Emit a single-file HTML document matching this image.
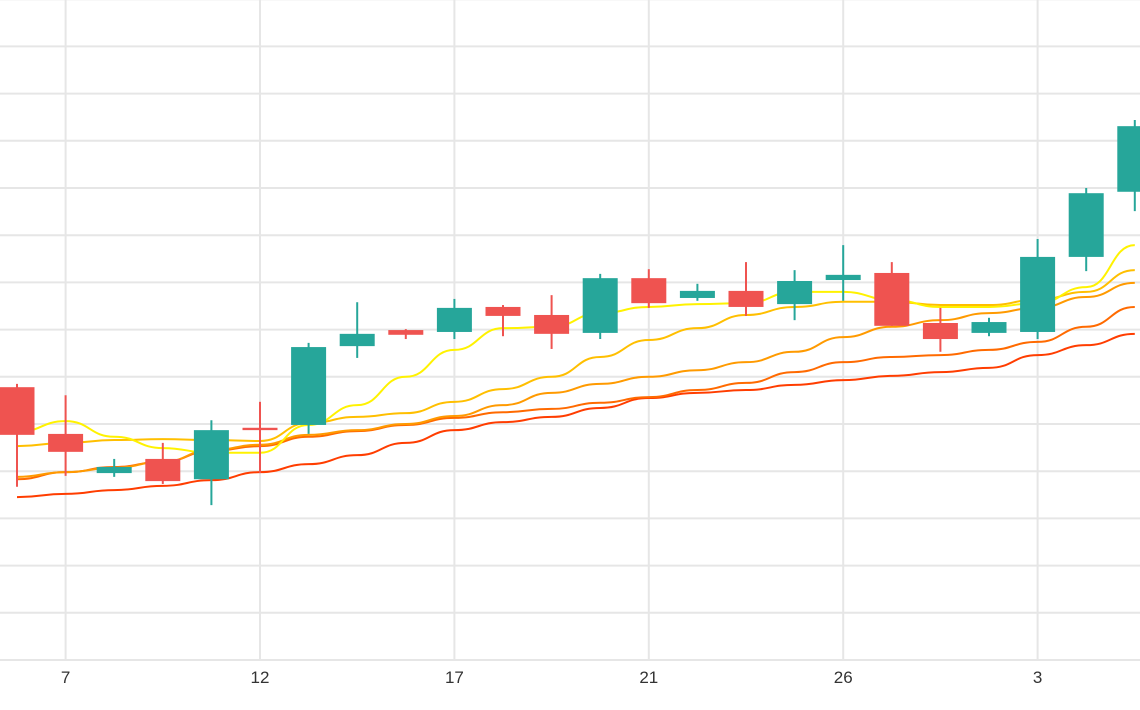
<!DOCTYPE html>
<html><head><meta charset="utf-8"><style>
html,body{margin:0;padding:0;background:#fff;}
svg{display:block;font-family:"Liberation Sans",sans-serif;}
</style></head><body>
<svg id="chart" width="1140" height="710" viewBox="0 0 1140 710" xmlns="http://www.w3.org/2000/svg">
<g id="grid"></g>
<g id="lines"></g>
<g id="candles"></g>
<g id="xaxis"></g>
</svg>
<script>
const categories=["6","7","8","10","11","12","13","14","15","17","18","19","20","21","22","24","25","26","27","28","2","3","4","5"];
const opens =[57.8,47.9,39.6,42.6,38.3,49.2,49.8,66.5,69.9,69.5,74.8,73.1,69.3,80.9,76.7,78.2,75.4,80.5,82.0,71.4,69.3,69.5,85.4,99.2];
const closes=[47.7,44.1,40.9,37.9,48.7,48.7,66.3,69.1,68.9,74.6,72.9,69.1,80.9,75.6,78.2,74.8,80.3,81.6,70.8,68.0,71.6,85.4,98.9,113.1];
const highs =[58.5,56.1,42.6,46.0,50.8,54.7,67.2,75.8,70.1,76.5,75.2,77.3,81.8,82.8,79.7,84.3,82.6,87.9,84.3,74.6,72.5,89.2,100.0,114.4];
const lows  =[36.7,39.0,38.8,37.3,32.8,39.6,47.9,64.0,68.0,68.0,68.6,65.9,68.0,74.6,76.1,72.9,72.0,76.1,70.8,65.3,68.6,68.0,82.4,95.1];
const ma5 =[48.3,50.6,47.3,44.9,43.9,43.9,49.8,54.0,60.0,65.7,70.3,70.6,73.5,74.8,75.4,75.6,78.0,78.0,76.3,74.8,74.8,75.6,79.0,87.9];
const ma10=[45.3,46.0,46.6,46.8,46.6,46.4,50.2,51.5,52.3,54.7,57.4,60.0,64.2,67.8,70.3,73.1,74.8,75.9,75.9,75.2,75.2,76.3,78.0,82.6];
const ma20=[38.8,39.8,40.7,42.0,44.5,45.6,47.7,48.7,50.0,51.7,54.0,56.6,58.5,60.0,61.4,63.1,65.3,68.4,70.6,72.0,73.5,74.6,76.9,79.9];
const ma30=[38.3,39.8,40.9,42.0,44.3,45.3,47.3,48.5,49.8,51.3,52.5,53.2,54.5,55.7,57.2,58.7,61.0,63.1,64.2,64.6,65.7,67.4,70.6,74.8];
const ma60=[34.5,35.2,36.0,36.9,38.1,39.8,41.5,43.4,46.0,48.7,50.4,51.5,53.4,55.5,56.6,57.2,58.3,59.3,60.2,61.0,61.9,64.6,66.7,69.1];
const yTicks=[10,20,30,40,50,60,70,80,90,100,110,120,130,140];

const NS="http://www.w3.org/2000/svg";
const x=i=>17+i*48.6;
const y=v=>660-v*4.72;
function mk(tag,attrs,parent){const e=document.createElementNS(NS,tag);for(const k in attrs)e.setAttribute(k,attrs[k]);parent.appendChild(e);return e;}
const grid=document.getElementById('grid');
yTicks.forEach(t=>{
  const l=mk('line',{x1:0,x2:1140,y1:y(t),y2:y(t),stroke:'#e6e6e6','stroke-width':2},grid);
  
  
});
const xa=document.getElementById('xaxis');
categories.forEach((c,i)=>{
  if(i%4!==1)return;
  const l=mk('line',{x1:x(i),x2:x(i),y1:0,y2:660,stroke:'#e6e6e6','stroke-width':2},grid);
  
  
  const t=mk('text',{x:x(i),y:683,'text-anchor':'middle','font-size':17,fill:'#333'},xa);
  t.textContent=c;
  
  
});
const ax=mk('line',{x1:0,x2:1140,y1:660,y2:660,stroke:'#e6e6e6','stroke-width':2},xa);



const lg=document.getElementById('lines');
[[ma60,'#ff3d00','ma60'],[ma30,'#ff6a00','ma30'],[ma20,'#ff9a00','ma20'],[ma10,'#ffbf00','ma10'],[ma5,'#fff200','ma5']].forEach(([arr,col,nm])=>{
  let d='';
  arr.forEach((v,i)=>{
    const px=x(i),py=y(v);
    if(i===0){d='M'+px+','+py;}
    else{const p0x=x(i-1),p0y=y(arr[i-1]);const mx=(p0x+px)/2;d+=' C'+mx+','+p0y+' '+mx+','+py+' '+px+','+py;}
  });
  const p=mk('path',{d:d,fill:'none',stroke:col,'stroke-width':2},lg);
  
  
});

const cg=document.getElementById('candles');
categories.forEach((c,i)=>{
  const up=closes[i]>=opens[i];
  const col=up?'#26a69a':'#ef5350';
  const g=mk('g',{},cg);
  
  
  mk('line',{x1:x(i),x2:x(i),y1:y(highs[i]),y2:y(lows[i]),stroke:col,'stroke-width':2},g);
  const top=y(Math.max(opens[i],closes[i])),bot=y(Math.min(opens[i],closes[i]));
  mk('rect',{x:x(i)-17.5,y:top,width:35,height:Math.max(2,bot-top),fill:col},g);
});
</script>
</body></html>
